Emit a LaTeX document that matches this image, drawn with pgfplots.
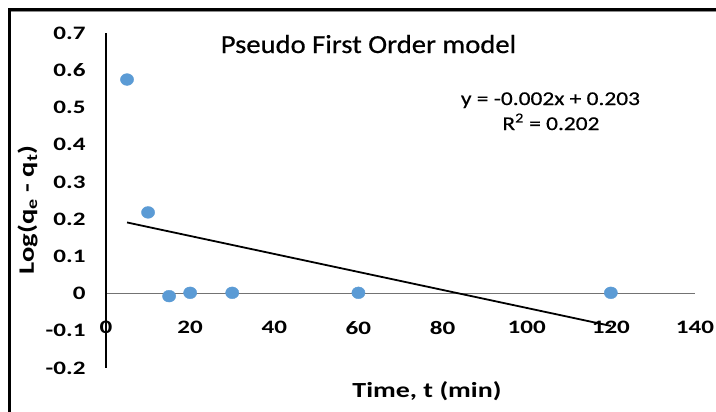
\documentclass[border=0pt]{standalone}
\usepackage{fontspec}
\setmainfont{Carlito}
\newfontfamily\titlefont[FakeStretch=1.1, FakeBold=0.6]{Carlito}
\newfontfamily\tickfont[FakeStretch=1.32]{Carlito}
\newfontfamily\labfont[FakeStretch=1.3]{Carlito}
\newfontfamily\eqfont[FakeStretch=1.2, FakeBold=0.5]{Carlito}
\usepackage{pgfplots}
\pgfplotsset{compat=1.18}
\definecolor{ptblue}{HTML}{5B9BD5}
\begin{document}
\begin{tikzpicture}[x=1pt,y=1pt]
\useasboundingbox (0,0) rectangle (716,412);
\fill[white] (0,0) rectangle (716,412);
\begin{axis}[
  at={(106pt,44pt)}, anchor=south west,
  scale only axis, width=589pt, height=335pt,
  xmin=0, xmax=140, ymin=-0.2, ymax=0.7,
  axis x line=middle, axis y line=left,
  hide obscured x ticks=false, hide obscured y ticks=false,
  x axis line style={-, draw=black!55, line width=1.3pt},
  y axis line style={-, draw=black, line width=1.1pt},
  major tick length=0pt,
  xtick={0,20,40,60,80,100,120,140},
  xticklabels={0,20,40,60,80,100,120,140},
  ytick={-0.2,-0.1,0,0.1,0.2,0.3,0.4,0.5,0.6,0.7},
  yticklabels={-0.2,-0.1,0,0.1,0.2,0.3,0.4,0.5,0.6,0.7},
  xticklabel style={font=\tickfont\bfseries\fontsize{19}{21}\selectfont, anchor=north, yshift=-24pt},
  yticklabel style={font=\tickfont\bfseries\fontsize{19}{21}\selectfont, anchor=east, xshift=-17pt},
  clip=false,
  xlabel={Time, t (min)},
  ylabel={Log(q\textsubscript{e} - q\textsubscript{t})},
  every axis x label/.style={at={(axis description cs:0.545,-0.0875)}, anchor=base, font=\labfont\bfseries\fontsize{21.5}{24}\selectfont},
  every axis y label/.style={at={(axis description cs:-0.1330,0.472)}, anchor=center, rotate=90, font=\labfont\bfseries\fontsize{22}{24}\selectfont},
]
\addplot[only marks, mark=*, mark size=5.9pt, mark options={xscale=1.12, fill=ptblue, draw=ptblue}]
  coordinates {(5,0.575) (10,0.218) (15,-0.007) (20,0.002) (30,0.002) (60,0.002) (120,0.002)};
\addplot[black, line width=1.8pt] coordinates {(5,0.191) (120,-0.087)};
\node[anchor=base, font=\titlefont\fontsize{26}{28}\selectfont] at (axis description cs:0.4457,0.9403) {Pseudo First Order model};
\node[anchor=base, font=\eqfont\fontsize{19.5}{21}\selectfont] at (axis description cs:0.7546,0.785) {y = -0.002x + 0.203};
\node[anchor=base, font=\eqfont\fontsize{19.5}{21}\selectfont] at (axis description cs:0.7554,0.7104) {R\textsuperscript{2} = 0.202};
\end{axis}
\draw[black!45, line width=1pt] (11,400.3) -- (716,400.3);
\draw[black, line width=3pt] (9.7,0) -- (9.7,402.3) -- (716,402.3);
\end{tikzpicture}
\end{document}
